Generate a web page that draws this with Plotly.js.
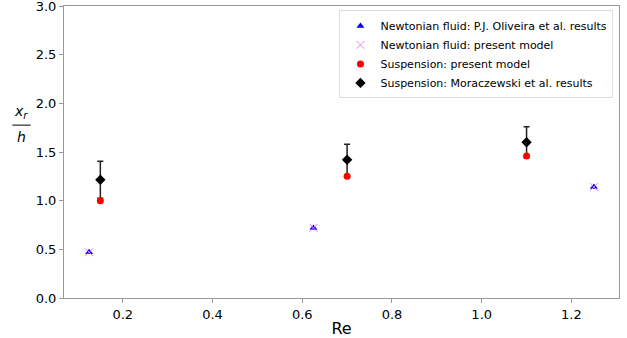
<!DOCTYPE html>
<html><head><meta charset="utf-8">
<script src="https://cdn.plot.ly/plotly-3.0.1.min.js"></script>
<style>body{margin:0;padding:0;background:#fff}#chart{width:627px;height:338px}</style>
</head><body><div id="chart"></div>
<script>
const reNewton = [0.125, 0.625, 1.25];
const xrNewtonOliveira = [0.47, 0.72, 1.14];
const xrNewtonModel = [0.47, 0.72, 1.14];
const reSusp = [0.15, 0.7, 1.1];
const xrSuspModel = [1.0, 1.25, 1.46];
const xrSuspMorac = [1.215, 1.42, 1.60];
const errSuspMorac = [0.19, 0.16, 0.16];
const xTickVals = [0.2, 0.4, 0.6, 0.8, 1.0, 1.2];
const xTickText = ['0.2', '0.4', '0.6', '0.8', '1.0', '1.2'];
const yTickVals = [0, 0.5, 1.0, 1.5, 2.0, 2.5, 3.0];
const yTickText = ['0.0', '0.5', '1.0', '1.5', '2.0', '2.5', '3.0'];

const font = {family: 'DejaVu Sans, sans-serif', color: '#000'};
const traces = [
  {x: reSusp, y: xrSuspMorac, type: 'scatter', mode: 'markers', name: 'Suspension: Moraczewski et al. results',
   marker: {symbol: 'diamond', color: '#000', size: 8},
   error_y: {type: 'data', array: errSuspMorac, visible: true, color: '#222', thickness: 1.5, width: 3}, legendrank: 4},
  {x: reNewton, y: xrNewtonOliveira, type: 'scatter', mode: 'markers', name: 'Newtonian fluid: P.J. Oliveira et al. results',
   marker: {symbol: 'triangle-up', color: '#0000ff', size: 7}, legendrank: 1},
  {x: reNewton, y: xrNewtonModel, type: 'scatter', mode: 'markers', name: 'Newtonian fluid: present model',
   marker: {symbol: 'x-thin', color: '#ee82ee', size: 8, line: {color: '#ee82ee', width: 1}}, legendrank: 2},
  {x: reSusp, y: xrSuspModel, type: 'scatter', mode: 'markers', name: 'Suspension: present model',
   marker: {symbol: 'circle', color: '#ff0000', size: 7}, legendrank: 3}
];
const axisCommon = {showline: true, linecolor: '#999', linewidth: 1, mirror: true, ticks: 'outside', ticklen: 4,
  tickcolor: '#999', showgrid: false, zeroline: false, ticklabeloverflow: 'allow',
  tickfont: {family: font.family, size: 13, color: '#000'}};
const layout = {
  width: 627, height: 338,
  margin: {l: 64, r: 8, t: 6, b: 40},
  paper_bgcolor: '#fff', plot_bgcolor: '#fff',
  font: font,
  showlegend: true,
  legend: {x: 0.99, y: 0.985, xanchor: 'right', yanchor: 'top', bgcolor: 'rgba(255,255,255,0.8)',
    bordercolor: '#ddd', borderwidth: 1, font: {family: font.family, size: 11, color: '#000'},
    tracegroupgap: 0, itemwidth: 30},
  xaxis: Object.assign({}, axisCommon, {range: [0.069, 1.306], tickvals: xTickVals, ticktext: xTickText,
    title: {text: 'Re', font: {family: font.family, size: 16, color: '#000'}, standoff: 4}}),
  yaxis: Object.assign({}, axisCommon, {range: [0, 3.0], tickvals: yTickVals, ticktext: yTickText}),
  annotations: [
    {xref: 'paper', yref: 'paper', x: -0.077, y: 0.6, xanchor: 'center', yanchor: 'bottom', showarrow: false,
     text: '<i>x<sub>r</sub></i>', font: {family: font.family, size: 14, color: '#000'}},
    {xref: 'paper', yref: 'paper', x: -0.077, y: 0.585, xanchor: 'center', yanchor: 'top', showarrow: false,
     text: '<i>h</i>', font: {family: font.family, size: 14, color: '#000'}}
  ],
  shapes: [
    {type: 'line', xref: 'paper', yref: 'paper', x0: -0.093, x1: -0.06, y0: 0.592, y1: 0.592,
     line: {color: '#000', width: 1}}
  ]
};
Plotly.newPlot('chart', traces, layout, {displayModeBar: false, staticPlot: true});
</script></body></html>
